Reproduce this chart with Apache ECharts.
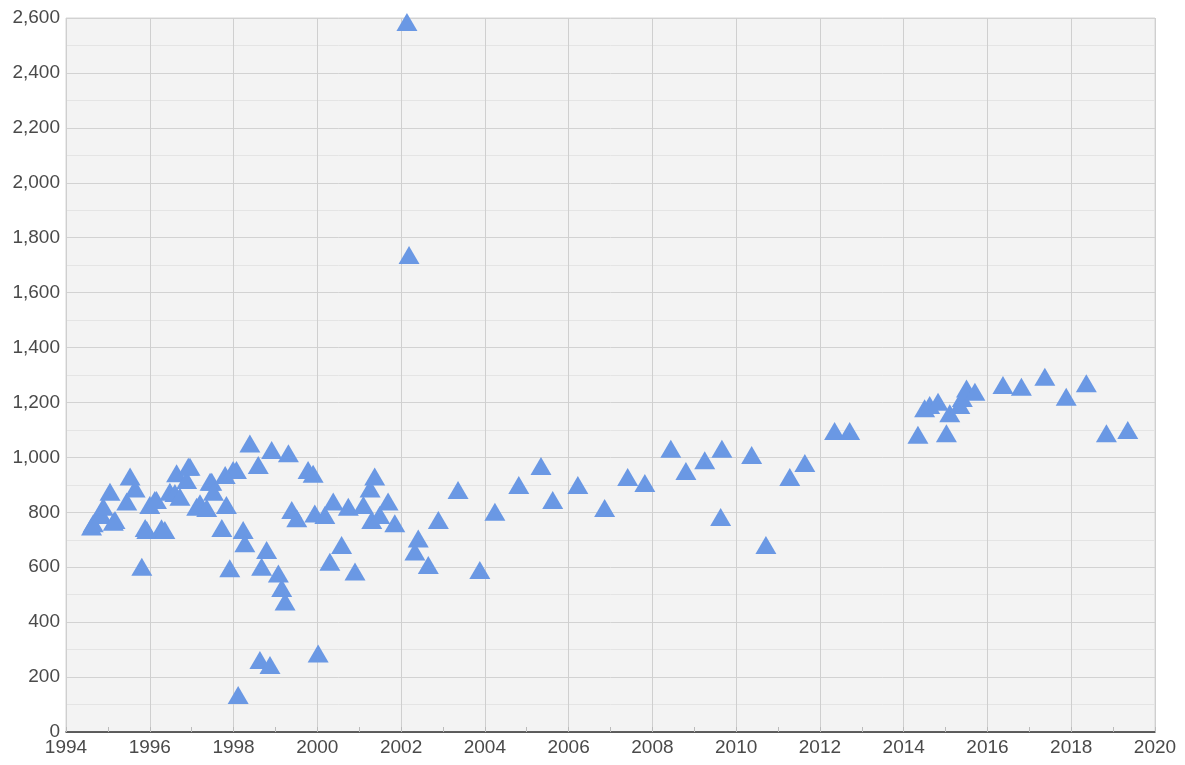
<!DOCTYPE html>
<html>
<head>
<meta charset="utf-8">
<title>Scatter</title>
<script src="https://cdn.jsdelivr.net/npm/echarts@6/dist/echarts.min.js"></script>
<style>
  html, body { margin: 0; padding: 0; background: #fff; }
  #chart { width: 1185px; height: 765px; }
</style>
</head>
<body>
<div id="chart"></div>
<script>
// decimal year of each point
var years = [
  1994.61, 1994.65, 1994.81, 1994.85, 1994.89, 1995.05, 1995.13, 1995.17, 1995.45, 1995.53,
  1995.65, 1995.81, 1995.89, 1995.93, 1996.0, 1996.12, 1996.16, 1996.28, 1996.36, 1996.48,
  1996.6, 1996.64, 1996.72, 1996.88, 1996.92, 1996.96, 1997.12, 1997.2, 1997.36, 1997.44,
  1997.48, 1997.52, 1997.72, 1997.8, 1997.83, 1997.91, 1997.99, 1998.07, 1998.11, 1998.23,
  1998.27, 1998.39, 1998.59, 1998.63, 1998.67, 1998.79, 1998.87, 1998.91, 1999.07, 1999.15,
  1999.23, 1999.31, 1999.39, 1999.51, 1999.78, 1999.9, 1999.94, 2000.02, 2000.18, 2000.3,
  2000.38, 2000.58, 2000.74, 2000.9, 2001.1, 2001.26, 2001.3, 2001.37, 2001.49, 2001.69,
  2001.85, 2002.14, 2002.19, 2002.33, 2002.41, 2002.65, 2002.89, 2003.36, 2003.88, 2004.24,
  2004.81, 2005.34, 2005.62, 2006.22, 2006.86, 2007.41, 2007.82, 2008.44, 2008.8, 2009.25,
  2009.63, 2009.66, 2010.37, 2010.71, 2011.28, 2011.64, 2012.35, 2012.71, 2014.34, 2014.5,
  2014.62, 2014.82, 2015.02, 2015.1, 2015.34, 2015.4, 2015.5, 2015.7, 2016.37, 2016.81,
  2017.37, 2017.88, 2018.36, 2018.84, 2019.35
];
var values = [
  748, 760, 796, 790, 820, 875, 766, 772, 839, 930,
  887, 602, 743, 736, 827, 845, 845, 742, 736, 875,
  870, 942, 857, 918, 966, 966, 820, 833, 816, 911,
  911, 875, 743, 936, 827, 596, 954, 954, 135, 736,
  687, 1051, 972, 262, 602, 663, 244, 1027, 577, 524,
  475, 1015, 808, 778, 954, 940, 796, 286, 790, 620,
  839, 681, 820, 584, 827, 887, 772, 930, 790, 839,
  760, 2585, 1737, 657, 705, 608, 772, 881, 590, 802,
  899, 969, 845, 899, 816, 929, 907, 1031, 950, 990,
  783, 1031, 1009, 681, 929, 980, 1096, 1096, 1082, 1179,
  1191, 1203, 1088, 1161, 1191, 1216, 1251, 1239, 1264, 1257,
  1294, 1221, 1270, 1088, 1100
];

var points = years.map(function (y, i) { return [y, values[i]]; });

var myChart = echarts.init(document.getElementById('chart'));
var labelStyle = { color: '#4a4a4a', fontSize: 19, fontFamily: 'Liberation Sans, Arial, sans-serif' };

myChart.setOption({
  animation: false,
  grid: {
    left: 66, right: 30, top: 18, bottom: 33,
    show: true, backgroundColor: '#f3f3f3', borderColor: '#d6d6d6', borderWidth: 1
  },
  xAxis: {
    type: 'value',
    min: 1994, max: 2020, interval: 2,
    axisLine: { show: true, lineStyle: { color: '#333', width: 1.5 } },
    axisTick: { show: true, inside: true, length: 5, lineStyle: { color: '#bbb' } },
    minorTick: { show: true, splitNumber: 2, length: 5, lineStyle: { color: '#bbb' } },
    splitLine: { show: true, lineStyle: { color: '#cfcfcf' } },
    axisLabel: Object.assign({ margin: 6, formatter: function (v) { return String(v); } }, labelStyle)
  },
  yAxis: {
    type: 'value',
    min: 0, max: 2600, interval: 200,
    axisLine: { show: false },
    axisTick: { show: false },
    splitLine: { show: true, lineStyle: { color: '#d2d2d2' } },
    minorSplitLine: { show: true, lineStyle: { color: '#e4e4e4' } },
    minorTick: { show: false, splitNumber: 2 },
    axisLabel: Object.assign({ margin: 6, formatter: function (v) { return v.toLocaleString('en-US'); } }, labelStyle)
  },
  series: [{
    type: 'scatter',
    symbol: 'triangle',
    symbolSize: [21, 18],
    itemStyle: { color: '#6a98e4', opacity: 1 },
    data: points
  }]
});
</script>
</body>
</html>
